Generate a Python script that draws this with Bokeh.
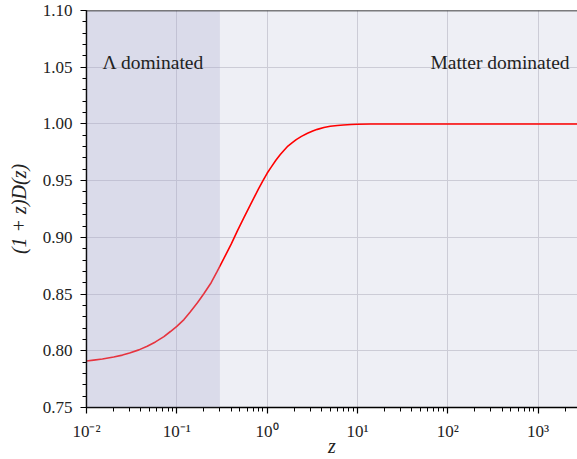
from bokeh.plotting import figure
from bokeh.models import (Range1d, FixedTicker, BoxAnnotation, Label, Span,
                          CustomJSTickFormatter)
from bokeh.embed import file_html
from bokeh.resources import INLINE

# ---- data ----
redshift = [0.01, 0.012, 0.015, 0.02, 0.025, 0.03, 0.038, 0.047, 0.058,
            0.072, 0.085, 0.1, 0.12, 0.14, 0.17, 0.2, 0.24, 0.28, 0.33, 0.4,
            0.47, 0.55, 0.65, 0.8, 0.9, 1.0, 1.1, 1.25, 1.4, 1.55, 1.7, 1.9,
            2.1, 2.4, 2.8, 3.2, 3.6, 4.25, 5.0, 6.0, 7.0, 8.5, 10.0, 14.0,
            20.0, 100.0, 1000.0, 3000.0]
growth = [0.7910, 0.7918, 0.7927, 0.7945, 0.7962, 0.7980, 0.8008, 0.8040,
          0.8078, 0.8125, 0.8170, 0.8215, 0.8275, 0.8340, 0.8425, 0.8505,
          0.8600, 0.8700, 0.8810, 0.8940, 0.9060, 0.9170, 0.9285, 0.9425,
          0.9500, 0.9565, 0.9615, 0.9680, 0.9730, 0.9770, 0.9805, 0.9835,
          0.9862, 0.9890, 0.9918, 0.9937, 0.9952, 0.9968, 0.9979, 0.9986,
          0.9991, 0.9995, 0.9997, 0.9999, 1.0000, 1.0000, 1.0000, 1.0000]

x_ticks = [1e-2, 1e-1, 1e0, 1e1, 1e2, 1e3]
x_tick_labels = ["10\u207b\u00b2", "10\u207b\u00b9", "10\u2070",
                 "10\u00b9", "10\u00b2", "10\u00b3"]
y_ticks = [0.75, 0.80, 0.85, 0.90, 0.95, 1.00, 1.05, 1.10]
lambda_region_end = 0.3
x_limits = (1e-2, 2735.0)
y_limits = (0.75, 1.10)
lambda_text = "\u039b dominated"
matter_text = "Matter dominated"
x_label = "z"
y_label = "(1 + z)D(z)"

SERIF = "Liberation Serif"
TXT = "#222222"

p = figure(width=577, height=459, x_axis_type="log",
           x_range=Range1d(*x_limits), y_range=Range1d(*y_limits),
           output_backend="svg", toolbar_location=None,
           min_border_left=86, min_border_right=0, min_border_top=10,
           min_border_bottom=51)

p.background_fill_color = "#EEEFF5"
p.border_fill_color = "white"
p.outline_line_color = None

# shaded Lambda-dominated region
p.add_layout(BoxAnnotation(left=x_limits[0], right=lambda_region_end,
                           fill_color="#ADABD0", fill_alpha=0.30,
                           line_color=None))

# curve
p.line(redshift, growth, line_color="#FF0000", line_width=1.6)

# ticks
x_minor = [m * 10.0 ** e for e in range(-2, 4) for m in range(2, 10)]
y_minor = [round(0.75 + 0.01 * i, 2) for i in range(36)]
p.xaxis.ticker = FixedTicker(ticks=x_ticks, minor_ticks=x_minor)
p.yaxis.ticker = FixedTicker(ticks=y_ticks, minor_ticks=y_minor)
p.xgrid.ticker = FixedTicker(ticks=x_ticks)
p.ygrid.ticker = FixedTicker(ticks=y_ticks)

for g in (p.xgrid, p.ygrid):
    g.grid_line_color = "#CCCCD6"
    g.grid_line_width = 1

for ax in (p.xaxis, p.yaxis):
    ax.axis_line_color = "black"
    ax.axis_line_width = 1.5
    ax.major_tick_line_color = "black"
    ax.minor_tick_line_color = "black"
    ax.major_tick_line_width = 1.2
    ax.minor_tick_line_width = 1.0
    ax.major_tick_in = 0
    ax.minor_tick_in = 0
    ax.major_tick_out = 6
    ax.minor_tick_out = 4
    ax.major_label_text_font = SERIF
    ax.major_label_text_font_size = "17px"
    ax.major_label_text_color = TXT
    ax.axis_label_text_font = SERIF
    ax.axis_label_text_font_style = "italic"
    ax.axis_label_text_font_size = "20px"
    ax.axis_label_text_color = TXT

p.yaxis.formatter = CustomJSTickFormatter(code="return tick.toFixed(2);")
p.yaxis.major_label_standoff = 8
p.yaxis.axis_label = y_label
p.yaxis.axis_label_standoff = 10

p.xaxis.formatter = CustomJSTickFormatter(
    args=dict(tick_values=x_ticks, tick_labels=x_tick_labels),
    code="""
const i = tick_values.findIndex(t => Math.abs(Math.log10(t) - Math.log10(tick)) < 1e-6);
return i >= 0 ? tick_labels[i] : '';
""")
p.xaxis.major_label_standoff = 8
p.xaxis.axis_label = x_label
p.xaxis.axis_label_standoff = -9

# top spine
p.add_layout(Span(location=y_limits[1], dimension="width",
                  line_color="black", line_width=1.5))

# region annotations
p.add_layout(Label(x=0.015, y=1.054, x_units="data", y_units="data",
                   text=lambda_text, text_align="left",
                   text_baseline="middle", text_font=SERIF,
                   text_font_size="19.5px", text_color=TXT))
p.add_layout(Label(x=2234, y=1.054, x_units="data", y_units="data",
                   text=matter_text, text_align="right",
                   text_baseline="middle", text_font=SERIF,
                   text_font_size="19.5px", text_color=TXT))

open("out.html", "w").write(file_html(p, INLINE))
